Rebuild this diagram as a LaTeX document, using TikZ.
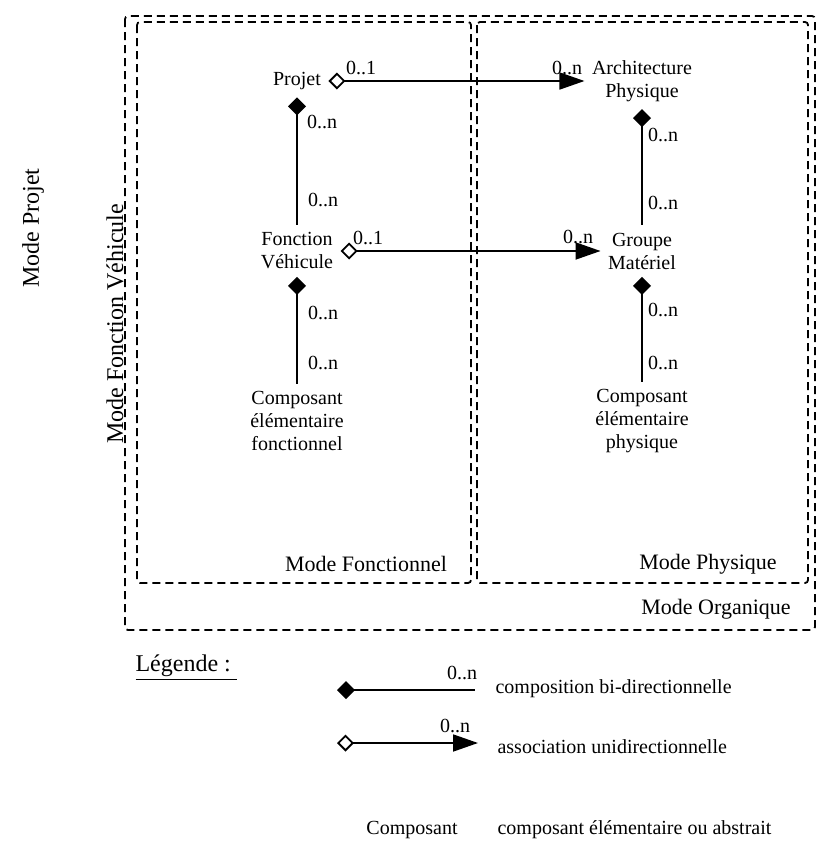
\documentclass[tikz,border=0pt]{standalone}
\usepackage{fontspec}
\setmainfont{Liberation Serif}
\usetikzlibrary{arrows.meta}

\begin{document}
\begin{tikzpicture}[x=0.5pt, y=-0.5pt, line width=0.9pt,
	every node/.style={font=\fontsize{10}{11.5}\selectfont, align=center},
	mode/.style={font=\fontsize{11}{13}\selectfont},
	bigmode/.style={font=\fontsize{12}{14}\selectfont, rotate=90},
	zone/.style={dash pattern=on 4pt off 2.5pt, rounded corners=1.5pt},
	compo/.style={{Diamond[length=9pt, width=9pt]}-},
	assoc/.style={{Diamond[open, length=8.5pt, width=8.5pt]}-{Triangle[length=12.5pt, width=8.5pt]}}]
	
	\useasboundingbox (0,0) rectangle (822,846);
	
	% Zones
	\draw[zone] (125,16) rectangle (815,630);
	\draw[zone] (137,22) rectangle (471,583);
	\draw[zone] (477,22) rectangle (808,583);
	\node[mode] (mfonct) at (366,564) {Mode Fonctionnel};
	\node[mode] (mphys) at (708,564) {Mode Physique};
	\node[mode] (morga) at (716,609) {Mode Organique};
	\node[bigmode] (mprojet) at (33,228) {Mode Projet};
	\node[bigmode] (mfv) at (115,324) {Mode Fonction Véhicule};
	
	% Nodes
	\node (projet) at (297,81) {Projet};
	\node (archi) at (642,81) {Architecture\\Physique};
	\node (fonction) at (297,251) {Fonction\\Véhicule};
	\node (groupe) at (642,251) {Groupe\\Matériel};
	\node (cef) at (297,421) {Composant\\élémentaire\\fonctionnel};
	\node (cep) at (642,421) {Composant\\élémentaire\\physique};
	
	% Edges
	\draw[assoc] (projet) -- (archi);
	\draw[assoc] (fonction) -- (groupe);
	\draw[compo] (projet) -- (fonction);
	\draw[compo] (archi) -- (groupe);
	\draw[compo] (fonction) -- (cef);
	\draw[compo] (groupe) -- (cep);
	
	% Multiplicities
	\node (m1) at (361,68) {0..1};
	\node (m2) at (567,68) {0..n};
	\node (m3) at (368,238) {0..1};
	\node (m4) at (578,237) {0..n};
	\node (m5) at (322,122) {0..n};
	\node (m6) at (323,200) {0..n};
	\node (m7) at (663,135) {0..n};
	\node (m8) at (663,203) {0..n};
	\node (m9) at (323,313) {0..n};
	\node (m10) at (323,363) {0..n};
	\node (m11) at (663,310) {0..n};
	\node (m12) at (663,363) {0..n};
	
	% Legend
	\node[font=\fontsize{12}{14}\selectfont, anchor=west] (legende) at (128,668) {\underline{Légende :\ }};
	\coordinate (c1a) at (337,690);
	\coordinate (c1b) at (475,690);
	\coordinate (c2a) at (337,743);
	\coordinate (c2b) at (478,743);
	\draw[compo] (c1a) -- (c1b);
	\draw[assoc] (c2a) -- (c2b);
	\node (l1) at (462,673) {0..n};
	\node (l2) at (455,726) {0..n};
	\node[anchor=west] (t1) at (488,689) {composition bi-directionnelle};
	\node[anchor=west] (t2) at (490,747) {association unidirectionnelle};
	\node (l3) at (412,830) {Composant};
	\node[anchor=west] (t3) at (490,830) {composant élémentaire ou abstrait};
	
\end{tikzpicture}
\end{document}
